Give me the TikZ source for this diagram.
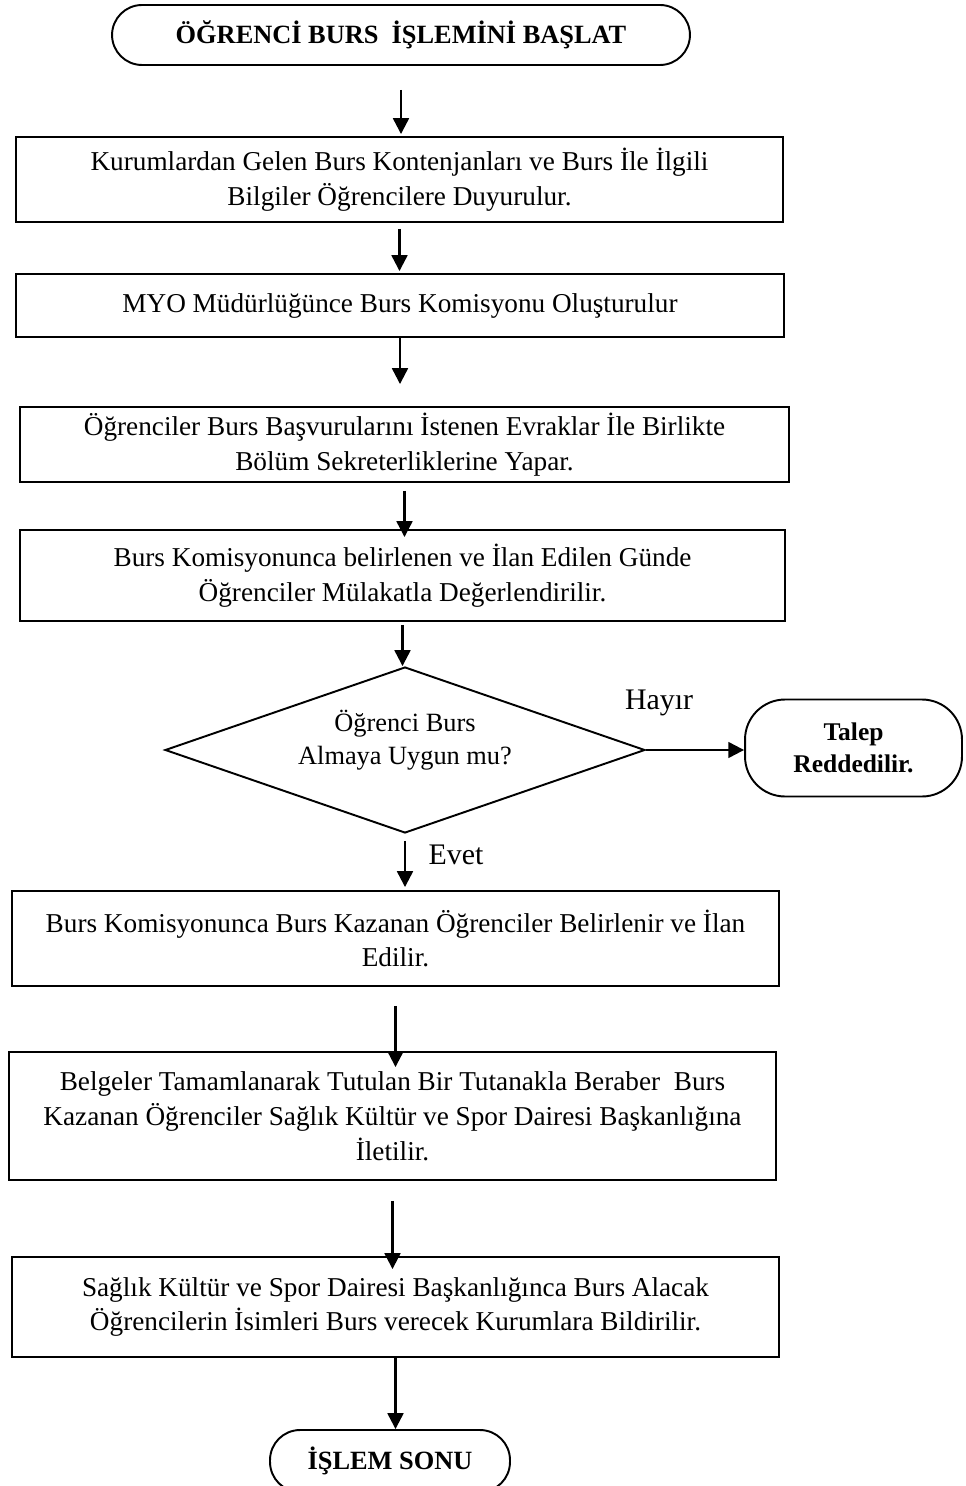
\documentclass[tikz,border=0pt]{standalone}
\usepackage{fontspec}
\setmainfont{Liberation Serif}
\usepackage{tikz}
\usetikzlibrary{arrows.meta,shapes.geometric}
\tikzset{
  procbox/.style={draw=black,line width=1.1pt,rectangle,
    minimum width=15.34cm,align=center,inner sep=2pt,
    font=\fontsize{15.5}{19.8}\selectfont},
  termnode/.style={draw=black,line width=1.1pt,rounded corners=0.6cm,
    align=center,inner sep=2pt,
    font=\fontsize{15}{18.5}\selectfont\bfseries},
  decnode/.style={draw=black,line width=1.1pt,diamond,aspect=2.9,
    minimum width=9.6cm,minimum height=3.32cm,inner sep=0pt,align=center,
    text depth=14pt,font=\fontsize{15}{18.7}\selectfont},
  flowarrow/.style={line width=1.3pt,-{Triangle[length=9pt,width=9pt]}},
  lbl/.style={font=\fontsize{17}{20}\selectfont,inner sep=0pt},
}
\begin{document}
\begin{tikzpicture}[x=0.02cm,y=-0.02cm]
  \clip (0,0) rectangle (965,1486);
  % Terminal nodes
  \node[termnode,minimum width=11.56cm,minimum height=1.2cm] (start) at (401,35) {ÖĞRENCİ BURS\ \ İŞLEMİNİ BAŞLAT};
  \node[termnode,rounded corners=0.8cm,minimum width=4.34cm,minimum height=1.94cm,
    font=\fontsize{14.5}{18.5}\selectfont\bfseries] (red) at (853.5,748) {Talep\\Reddedilir.};
  \node[termnode,minimum width=4.8cm,minimum height=1.24cm] (stop) at (390,1461) {İŞLEM SONU};
  % Process nodes
  \node[procbox,minimum height=1.7cm] (b1) at (399.5,179.5) {Kurumlardan Gelen Burs Kontenjanları ve Burs İle İlgili\\Bilgiler Öğrencilere Duyurulur.};
  \node[procbox,minimum width=15.36cm,minimum height=1.26cm] (b2) at (400,305.5) {MYO Müdürlüğünce Burs Komisyonu Oluşturulur};
  \node[procbox,minimum width=15.38cm,minimum height=1.5cm] (b3) at (404.5,444.5) {Öğrenciler Burs Başvurularını İstenen Evraklar İle Birlikte\\Bölüm Sekreterliklerine Yapar.};
  \node[procbox,minimum width=15.3cm,minimum height=1.82cm] (b4) at (402.5,575.5) {Burs Komisyonunca belirlenen ve İlan Edilen Günde\\Öğrenciler Mülakatla Değerlendirilir.};
  \node[procbox,minimum height=1.9cm] (b5) at (395.5,938.5) {Burs Komisyonunca Burs Kazanan Öğrenciler Belirlenir ve İlan\\Edilir.};
  \node[procbox,minimum height=2.56cm] (b6) at (392.5,1116) {Belgeler Tamamlanarak Tutulan Bir Tutanakla Beraber\ \ Burs\\Kazanan Öğrenciler Sağlık Kültür ve Spor Dairesi Başkanlığına\\İletilir.};
  \node[procbox,minimum height=2.0cm] (b7) at (395.5,1307) {Sağlık Kültür ve Spor Dairesi Başkanlığınca Burs Alacak\\Öğrencilerin İsimleri Burs verecek Kurumlara Bildirilir.};
  % Decision node
  \node[decnode] (dec) at (405,750) {Öğrenci Burs\\Almaya Uygun mu?};
  % Labels
  \node[lbl] (no) at (659,703) {Hayır};
  \node[lbl] (yes) at (456,855) {Evet};
  % Edges
  \draw[flowarrow,shorten <=0.48cm,shorten >=0.04cm] (start.south) -- (start.south |- b1.north);
  \draw[flowarrow,shorten <=0.12cm,shorten >=0.04cm] (b1.south) -- (b1.south |- b2.north);
  \draw[flowarrow,shorten >=0.44cm] (b2.south) -- (b2.south |- b3.north);
  \draw[flowarrow,shorten <=0.16cm,shorten >=-0.16cm] (b3.south) -- (b3.south |- b4.north);
  \draw[flowarrow,shorten <=0.06cm] (b4.south) -- (b4.south |- dec.north);
  \draw[flowarrow,shorten <=0.14cm,shorten >=0.06cm] (dec.south) -- (dec.south |- b5.north);
  \draw[flowarrow,shorten <=0.38cm,shorten >=-0.32cm] (b5.south) -- (b5.south |- b6.north);
  \draw[flowarrow,shorten <=0.4cm,shorten >=-0.26cm] (b6.south) -- (b6.south |- b7.north);
  \draw[flowarrow] (b7.south) -- (b7.south |- stop.north);
  \draw[flowarrow] (dec.east) -- (dec.east -| red.west);
\end{tikzpicture}
\end{document}
